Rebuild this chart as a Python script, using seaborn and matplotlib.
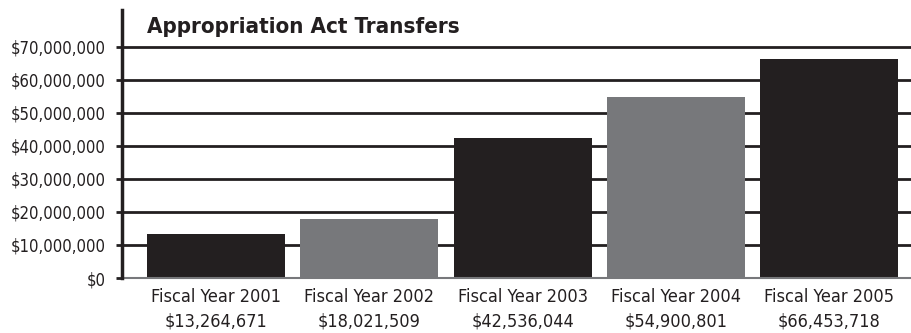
import matplotlib
matplotlib.use("Agg")
import matplotlib.pyplot as plt
import seaborn as sns
import pandas as pd
from matplotlib.ticker import FuncFormatter

years = ["Fiscal Year 2001", "Fiscal Year 2002", "Fiscal Year 2003", "Fiscal Year 2004", "Fiscal Year 2005"]
amounts = [13264671, 18021509, 42536044, 54900801, 66453718]
amount_labels = ["$13,264,671", "$18,021,509", "$42,536,044", "$54,900,801", "$66,453,718"]
bar_colors = ["#231f20", "#77787b", "#231f20", "#77787b", "#231f20"]
title = "Appropriation Act Transfers"

sns.set_theme(style="white")
plt.rcParams["font.family"] = ["DejaVu Sans"]
plt.rcParams["font.stretch"] = "condensed"

df = pd.DataFrame({"year": years, "amount": amounts})

fig = plt.figure(figsize=(9.12, 3.33), dpi=100)
ax = fig.add_axes([122/912, 1 - 278/333, 1 - 122/912, (278 - 10)/333])

sns.barplot(data=df, x="year", y="amount", hue="year", palette=bar_colors,
            width=0.9, legend=False, saturation=1, ax=ax, zorder=3,
            edgecolor="none", linewidth=0)

ax.set_ylim(0, 81.2e6)
ax.set_xlim(-0.613, 4.54)
ax.set_yticks(range(0, 70000001, 10000000))
ax.yaxis.set_major_formatter(FuncFormatter(lambda v, p: "${:,.0f}".format(v)))
ax.yaxis.grid(True, color="#231f20", linewidth=2.0, zorder=0)
ax.set_axisbelow(True)
ax.set_xticks(range(len(years)))
ax.set_xticklabels([f"{y}\n{a}" for y, a in zip(years, amount_labels)], linespacing=1.45)
ax.set_xlabel("")
ax.set_ylabel("")

for s in ["top", "right"]:
    ax.spines[s].set_visible(False)
ax.spines["bottom"].set_color("#77787b")
ax.spines["bottom"].set_linewidth(1.5)
ax.spines["bottom"].set_zorder(4)
ax.spines["left"].set_color("#231f20")
ax.spines["left"].set_linewidth(2.5)
ax.spines["left"].set_zorder(5)

ax.tick_params(axis="y", which="both", left=True, length=4, width=2, color="#231f20",
               labelsize=12, pad=8, labelcolor="#231f20")
ax.tick_params(axis="x", bottom=False, labelsize=13, pad=1, labelcolor="#231f20")

fig.text(147/912, 1 - 27/333, title, fontsize=16, fontweight="bold",
         color="#231f20", ha="left", va="center")

fig.savefig("out.png", dpi=100)
